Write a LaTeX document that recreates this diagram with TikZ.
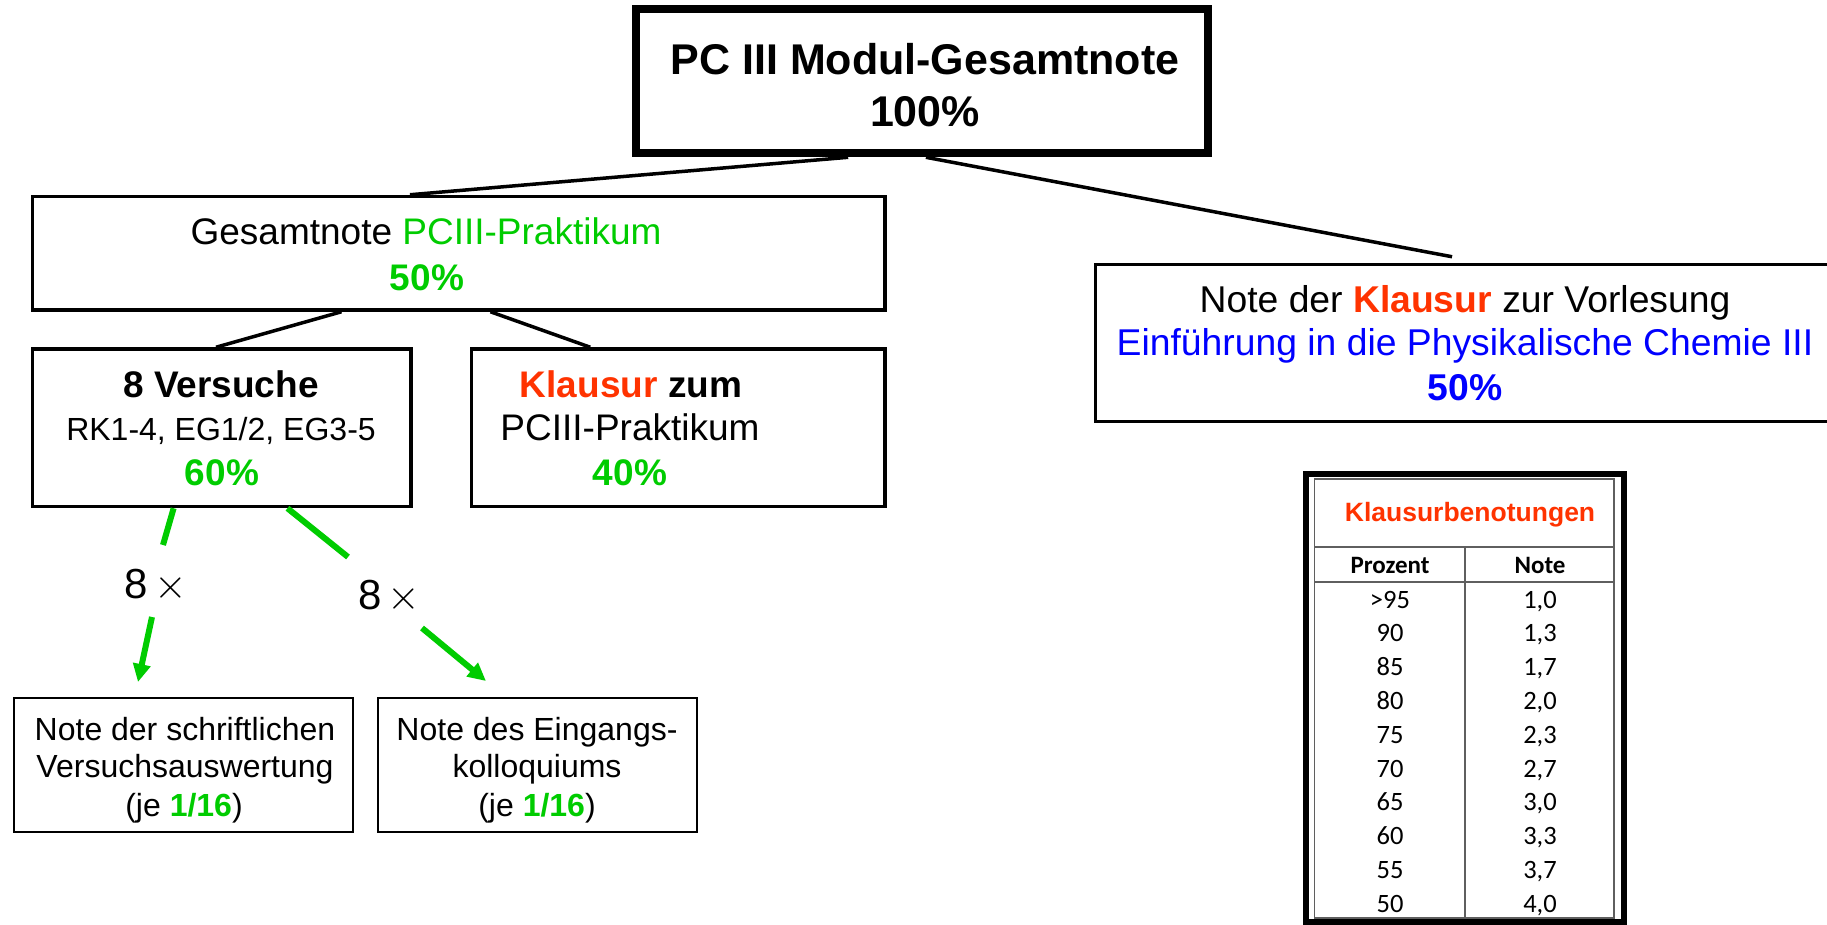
\documentclass[tikz,border=0pt]{standalone}
\usepackage{graphicx}
\usepackage{fontspec}
\setmainfont{Liberation Sans}
\newfontfamily\calib{Carlito}
\usetikzlibrary{calc,arrows.meta}
\definecolor{grn}{RGB}{0,204,0}
\definecolor{kred}{RGB}{255,51,0}
\definecolor{kblue}{RGB}{0,0,255}
\definecolor{tgray}{RGB}{95,95,95}
\newcommand\fsz[1]{\fontsize{#1}{#1}\selectfont}
\newcommand\bigtimes{{\normalsize\scalebox{4.2}{$\times$}}}
\begin{document}
\begin{tikzpicture}[x=1pt,y=-1pt,
  box/.style={draw, line width=3.5pt, rectangle, inner sep=0pt, fill=white},
  thinbox/.style={draw, line width=2pt, rectangle, inner sep=0pt, fill=white},
  txt/.style={anchor=base, inner sep=0pt},
  conn/.style={line width=3.5pt},
  gline/.style={grn, line width=6pt},
  garrow/.style={grn, line width=6pt, -{Triangle[length=18pt,width=17pt]}},
  tline/.style={tgray, line width=1.8pt},
]
\fill[white] (0,0) rectangle (1827,925);
\useasboundingbox (0,0) rectangle (1827,925);

% boxes
\node[box, line width=7.3pt, minimum width=573pt, minimum height=145pt] (top) at (921.85,81.15) {};
\draw[line width=2.6pt] ($(top.south west)+(7.2,-6.7)$) rectangle ($(top.north east)+(-7,6.7)$);
\node[box, minimum width=852.5pt, minimum height=113.5pt] (ges) at (458.75,253.25) {};
\node[box, minimum width=378.5pt, minimum height=157.5pt] (ver) at (221.75,427.75) {};
\node[box, minimum width=413.5pt, minimum height=157.5pt] (kla) at (678.25,427.75) {};
\node[box, minimum width=744.5pt, minimum height=157pt] (vor) at (1467.75,343) {};
\node[thinbox, minimum width=339pt, minimum height=134pt] (bl) at (183.5,765) {};
\node[thinbox, minimum width=319pt, minimum height=134pt] (br) at (537.5,765) {};

% black connectors
\coordinate (rc) at ($(vor.north west)!0.479!(vor.north east)+(0,-6)$);
\draw[conn] ($(top.south west)!0.373!(top.south east)$) -- ($(ges.north west)!0.443!(ges.north east)$);
\draw[conn] ($(top.south west)!0.507!(top.south east)$) -- (rc);
\draw[conn] ($(ges.south west)!0.363!(ges.south east)$) -- ($(ver.north west)!0.485!(ver.north east)$);
\draw[conn] ($(ges.south west)!0.537!(ges.south east)$) -- ($(kla.north west)!0.289!(kla.north east)$);

% green connectors
\coordinate (c1) at (163,545);
\coordinate (c2) at (152,617);
\coordinate (a1) at (138,682);
\coordinate (c3) at (348,557);
\coordinate (c4) at (422,628);
\coordinate (a2) at (486,681);
\draw[gline] ($(ver.south west)!0.374!(ver.south east)$) -- (c1);
\draw[garrow] (c2) -- (a1);
\draw[gline] ($(ver.south west)!0.672!(ver.south east)$) -- (c3);
\draw[garrow] (c4) -- (a2);
\node[txt, font=\fsz{42}] (m1) at (156,598) {8\hspace{6pt}\bigtimes};
\node[txt, font=\fsz{42}] (m2) at (389.5,609) {8\hspace{6pt}\bigtimes};

% texts
\node[txt, font=\bfseries\fsz{43}] (t1) at (925,75) {PC III Modul-Gesamtnote};
\node[txt, font=\bfseries\fsz{43}] (t2) at (925,127) {100\%};

\node[txt, font=\fsz{37}] (g1) at (426,245) {Gesamtnote \textcolor{grn}{PCIII-Praktikum}};
\node[txt, font=\bfseries\fsz{37}, text=grn] (g2) at (427,290) {50\%};

\node[txt, font=\bfseries\fsz{37}] (v1) at (221,397) {8 Versuche};
\node[txt, font=\fsz{32}] (v2) at (221,440) {RK1-4, EG1/2, EG3-5};
\node[txt, font=\bfseries\fsz{37}, text=grn] (v3) at (222,485) {60\%};

\node[txt, font=\bfseries\fsz{37}] (k1) at (631,397) {\textcolor{kred}{Klausur} zum};
\node[txt, font=\fsz{37}] (k2) at (630,440) {PCIII-Praktikum};
\node[txt, font=\bfseries\fsz{37}, text=grn] (k3) at (630,485) {40\%};

\node[txt, font=\fsz{37.3}] (r1) at (1465,312) {Note der \textbf{\textcolor{kred}{Klausur}} zur Vorlesung};
\node[txt, font=\fsz{37.3}, text=kblue] (r2) at (1465,355) {Einführung in die Physikalische Chemie III};
\node[txt, font=\bfseries\fsz{37.3}, text=kblue] (r3) at (1465,400) {50\%};

\node[txt, font=\fsz{32}] (b1) at (185,740) {Note der schriftlichen};
\node[txt, font=\fsz{32}] (b2) at (185,777) {Versuchsauswertung};
\node[txt, font=\fsz{32}] (b3) at (184,816) {(je \textbf{\textcolor{grn}{1/16}})};
\node[txt, font=\fsz{32}] (e1) at (537,740) {Note des Eingangs-};
\node[txt, font=\fsz{32}] (e2) at (537,777) {kolloquiums};
\node[txt, font=\fsz{32}] (e3) at (537,816) {(je \textbf{\textcolor{grn}{1/16}})};

% table
\node[draw, line width=6pt, rectangle, inner sep=0pt, minimum width=318pt, minimum height=448pt] (tab) at (1465,698) {};
\draw[tline] (1314.5,479) rectangle (1614,918);
\draw[tline] (1314.5,547) -- (1614,547);
\draw[tline] (1314.5,582) -- (1614,582);
\draw[tline] (1465,547) -- (1465,918);
\node[txt, font=\bfseries\fsz{26.5}, text=kred] (tt) at (1470,521) {Klausurbenotungen};
\node[txt, font=\calib\bfseries\fsz{25}] (hp) at (1390,573) {Prozent};
\node[txt, font=\calib\bfseries\fsz{25}] (hn) at (1540,573) {Note};
\foreach \p/\n [count=\i from 0] in {>95/1{,}0, 90/1{,}3, 85/1{,}7, 80/2{,}0, 75/2{,}3, 70/2{,}7, 65/3{,}0, 60/3{,}3, 55/3{,}7, 50/4{,}0} {
  \node[txt, font=\calib\fsz{26.5}] (p\i) at (1390,{608+33.8*\i}) {\p};
  \node[txt, font=\calib\fsz{26.5}] (n\i) at (1540,{608+33.8*\i}) {\n};
}
\end{tikzpicture}
\end{document}
